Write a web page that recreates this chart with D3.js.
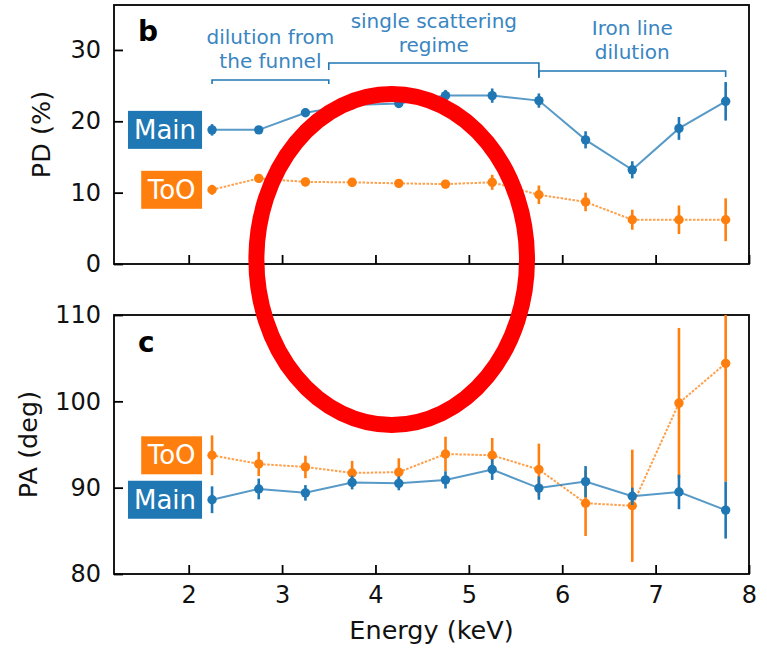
<!DOCTYPE html>
<html>
<head>
<meta charset="utf-8">
<script src="https://cdn.jsdelivr.net/npm/d3@7/dist/d3.min.js"></script>
<style>
  html, body { margin: 0; padding: 0; background: #fff; }
  svg { display: block; font-family: "DejaVu Sans", sans-serif; }
</style>
</head>
<body>
<svg id="chart" width="767" height="649"></svg>
<script>
// Energy bins (keV)
const energy = [2.25, 2.75, 3.25, 3.75, 4.25, 4.75, 5.25, 5.75, 6.25, 6.75, 7.25, 7.75];

// Polarization degree (%)
const pdMain    = [18.8, 18.8, 21.2, 22.3, 22.5, 23.6, 23.6, 22.9, 17.4, 13.2, 19.0, 22.8];
const pdMainErr = [0.8, 0.5, 0.6, 0.6, 0.6, 0.8, 1.0, 1.0, 1.2, 1.2, 1.6, 2.7];
const pdToO     = [10.4, 12.0, 11.5, 11.45, 11.3, 11.2, 11.45, 9.7, 8.7, 6.2, 6.2, 6.2];
const pdToOErr  = [0.7, 0.6, 0.6, 0.6, 0.6, 0.6, 1.05, 1.3, 1.3, 1.4, 2.0, 3.0];

// Polarization angle (deg)
const paMain    = [88.6, 89.85, 89.4, 90.6, 90.5, 90.9, 92.1, 89.95, 90.7, 89.0, 89.5, 87.4];
const paMainErr = [1.55, 1.2, 0.9, 0.8, 0.8, 1.0, 1.2, 1.35, 1.8, 1.0, 2.0, 3.3];
const paToO     = [93.75, 92.75, 92.4, 91.7, 91.8, 93.9, 93.75, 92.1, 88.2, 87.9, 99.8, 104.4];
const paToOErr  = [2.3, 1.4, 1.3, 1.4, 1.6, 2.0, 2.0, 3.0, 3.8, 6.5, 8.7, 13.7];

// Axis ticks
const energyTicks = [2, 3, 4, 5, 6, 7, 8];
const pdTicks = [0, 10, 20, 30];
const paTicks = [80, 90, 100, 110];

// Energy regimes annotated over the PD panel
const regimeFrom  = [2.25, 3.5, 5.75];
const regimeTo    = [3.5, 5.75, 7.75];
const regimeText  = [["dilution from", "the funnel"], ["single scattering", "regime"], ["Iron line", "dilution"]];

const C_MAIN = "#1f77b4", C_TOO = "#ff7f0e";

const svg = d3.select("#chart");
const left = 114, right = 749;
const x = d3.scaleLinear().domain([1.2, 8]).range([left, right]);

const panels = [
  { id: "b", top: 5, bottom: 264, domain: [0, 36.3], ticks: pdTicks, label: "PD (%)", labelX: 50,
    main: pdMain, mainErr: pdMainErr, too: pdToO, tooErr: pdToOErr, showX: false },
  { id: "c", top: 315, bottom: 574, domain: [80, 110], ticks: paTicks, label: "PA (deg)", labelX: 37,
    main: paMain, mainErr: paMainErr, too: paToO, tooErr: paToOErr, showX: true }
];

panels.forEach((p, pi) => {
  const y = d3.scaleLinear().domain(p.domain).range([p.bottom, p.top]);
  const g = svg.append("g");

  const clipId = "clip-" + p.id;
  svg.append("clipPath").attr("id", clipId)
    .append("rect").attr("x", left).attr("y", p.top)
    .attr("width", right - left).attr("height", p.bottom - p.top);

  // axes with inward ticks
  const xa = d3.axisBottom(x).tickValues(energyTicks).tickSize(-9).tickPadding(12)
    .tickFormat(p.showX ? d3.format("d") : () => "");
  const gx = g.append("g").attr("transform", `translate(0,${p.bottom})`).call(xa);
  const ya = d3.axisLeft(y).tickValues(p.ticks).tickSize(-9).tickPadding(13).tickFormat(d3.format("d"));
  const gy = g.append("g").attr("transform", `translate(${left},0)`).call(ya);
  [gx, gy].forEach(a => {
    a.select(".domain").remove();
    a.selectAll(".tick line").attr("stroke", "#000").attr("stroke-width", 1.8);
    a.selectAll(".tick text").attr("fill", "#111").style("font-size", "24px")
      .style("font-family", "DejaVu Sans, sans-serif");
  });

  // frame
  g.append("rect").attr("x", left).attr("y", p.top)
    .attr("width", right - left).attr("height", p.bottom - p.top)
    .attr("fill", "none").attr("stroke", "#000").attr("stroke-width", 1.8);

  // y label
  g.append("text")
    .attr("transform", `translate(${p.labelX},${(p.top + p.bottom) / 2}) rotate(-90)`)
    .attr("text-anchor", "middle").attr("fill", "#111")
    .style("font-size", "25.5px").text(p.label);

  // panel letter
  g.append("text").attr("x", 138).attr("y", pi === 0 ? 41 : 352)
    .attr("font-weight", "bold").style("font-size", "28px").attr("fill", "#000").text(p.id);

  const data = g.append("g").attr("clip-path", `url(#${clipId})`);
  const series = [
    { vals: p.too, err: p.tooErr, color: C_TOO, dash: "2.5,1.5", name: "ToO" },
    { vals: p.main, err: p.mainErr, color: C_MAIN, dash: null, name: "Main" }
  ];
  series.forEach(s => {
    const pts = energy.map((e, i) => ({ e, v: s.vals[i], d: s.err[i] }));
    const line = d3.line().x(d => x(d.e)).y(d => y(d.v));
    data.append("path").datum(pts).attr("d", line)
      .attr("fill", "none").attr("stroke", s.color).attr("stroke-width", 2)
      .attr("stroke-opacity", 0.75).attr("stroke-dasharray", s.dash);
    data.selectAll(null).data(pts).enter().append("line")
      .attr("x1", d => x(d.e)).attr("x2", d => x(d.e))
      .attr("y1", d => y(d.v - d.d)).attr("y2", d => y(d.v + d.d))
      .attr("stroke", s.color).attr("stroke-width", 2.6);
    data.selectAll(null).data(pts).enter().append("circle")
      .attr("cx", d => x(d.e)).attr("cy", d => y(d.v)).attr("r", 4.7)
      .attr("fill", s.color);
  });

  // labelled boxes beside the first point of each series
  series.forEach(s => {
    const cx = x(energy[0]) - 10, cy = y(s.vals[0]);
    const lg = g.append("g");
    const t = lg.append("text").attr("x", 0).attr("y", 0)
      .attr("text-anchor", "middle").attr("dominant-baseline", "central")
      .attr("fill", "#fff").style("font-size", "26px").text(s.name);
    const bb = t.node().getBBox();
    const w = bb.width + 12, h = 38;
    lg.insert("rect", "text").attr("x", -w / 2).attr("y", -h / 2)
      .attr("width", w).attr("height", h).attr("fill", s.color);
    lg.attr("transform", `translate(${cx - w / 2},${cy})`);
  });
});

// regime brackets and captions over the PD panel
const bracketY = [80, 63, 71];
const textTop  = [44, 28, 35];
regimeFrom.forEach((e0, i) => {
  const x0 = x(e0), x1 = x(regimeTo[i]), yb = bracketY[i];
  svg.append("path")
    .attr("d", `M${x0},${yb + (i === 0 ? 4 : 7)}V${yb}H${x1}V${yb + (i === 1 ? 14 : (i === 2 ? 6 : 4))}`)
    .attr("fill", "none").attr("stroke", C_MAIN).attr("stroke-width", 1.6);
  regimeText[i].forEach((ln, k) => {
    svg.append("text").attr("x", (x0 + x1) / 2).attr("y", textTop[i] + k * 24)
      .attr("text-anchor", "middle").attr("fill", "#3a85c1")
      .style("font-size", "20px").text(ln);
  });
});

// axis title
svg.append("text").attr("x", (left + right) / 2).attr("y", 639)
  .attr("text-anchor", "middle").attr("fill", "#111").style("font-size", "25.5px")
  .text("Energy (keV)");

// red highlight ellipse
svg.append("ellipse").attr("cx", 391.7).attr("cy", 259.5).attr("rx", 135.3).attr("ry", 165.5)
  .attr("fill", "none").attr("stroke", "#ff0000").attr("stroke-width", 16);
</script>
</body>
</html>
